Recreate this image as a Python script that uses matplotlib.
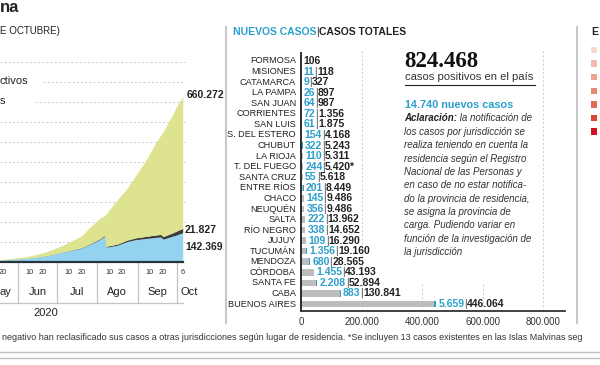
import matplotlib
matplotlib.use('Agg')
import matplotlib.pyplot as plt
import matplotlib.dates as mdates
import numpy as np
import pandas as pd
from matplotlib.lines import Line2D
from matplotlib.patches import Rectangle
from matplotlib.text import Annotation

plt.rcParams['font.family'] = ['Liberation Sans', 'DejaVu Sans']

# --- evolución acumulada (miles de casos) ---
fechas = ['2020-05-18', '2020-05-25', '2020-06-01', '2020-06-08', '2020-06-15',
          '2020-06-22', '2020-06-29', '2020-07-06', '2020-07-13', '2020-07-20',
          '2020-07-27', '2020-08-03', '2020-08-07', '2020-08-08', '2020-08-10',
          '2020-08-17', '2020-08-24', '2020-08-31', '2020-09-07', '2020-09-14',
          '2020-09-19', '2020-09-21', '2020-09-28', '2020-10-01', '2020-10-06']
totales = [8.4, 12.6, 17.4, 23.6, 32.8, 44.9, 62.3, 80.4, 103.3, 126.8,
           173.0, 214.0, 228.2, 235.7, 253.9, 310.0, 362.0, 430.0, 498.0, 578.0,
           630.0, 648.0, 730.0, 770.0, 824.468]
activos = [5.0, 7.5, 11.0, 14.5, 20.0, 26.0, 35.0, 45.0, 55.0, 65.0,
           85.0, 108.0, 125.0, 70.0, 72.0, 80.0, 98.0, 108.0, 113.0, 118.0,
           121.0, 110.0, 125.0, 130.0, 142.369]
fallecidos = [0.38, 0.46, 0.56, 0.67, 0.82, 1.0, 1.22, 1.58, 1.95, 2.35,
              3.0, 3.9, 4.4, 4.5, 4.9, 6.0, 7.4, 8.9, 10.4, 12.1,
              13.1, 13.5, 16.0, 20.3, 21.827]
meses = ['ay', 'Jun', 'Jul', 'Ago', 'Sep']

# --- casos por jurisdicción ---
provincias = ['FORMOSA', 'MISIONES', 'CATAMARCA', 'LA PAMPA', 'SAN JUAN', 'CORRIENTES',
              'SAN LUIS', 'S. DEL ESTERO', 'CHUBUT', 'LA RIOJA', 'T. DEL FUEGO',
              'SANTA CRUZ', 'ENTRE RÍOS', 'CHACO', 'NEUQUÉN', 'SALTA', 'RÍO NEGRO',
              'JUJUY', 'TUCUMÁN', 'MENDOZA', 'CÓRDOBA', 'SANTA FE', 'CABA', 'BUENOS AIRES']
nuevos = [0, 11, 9, 26, 64, 72, 61, 154, 322, 110, 244, 55, 201, 145, 356, 222,
          338, 109, 1356, 680, 1455, 2208, 883, 5659]
casos_prov = [106, 118, 327, 897, 987, 1356, 1875, 4168, 5243, 5311, 5420, 5618,
              8449, 9486, 9486, 13962, 14652, 16290, 19160, 28565, 43193, 52894,
              130841, 446064]
marcas = {'T. DEL FUEGO': '*'}
ticks_x = [0, 200000, 400000, 600000, 800000]

parrafo = ['los casos por jurisdicción se',
           'realiza teniendo en cuenta la',
           'residencia según el Registro',
           'Nacional de las Personas y',
           'en caso de no estar notifica-',
           'do la provincia de residencia,',
           'se asigna la provincia de',
           'carga. Pudiendo variar en',
           'función de la investigación de',
           'la jurisdicción']
escala_rojos = ['#f7d9d2', '#f1bcae', '#eba392', '#e58a75', '#e06a55', '#db4638', '#d20f24']

W, H = 600, 365
AZUL = '#2a9fcb'
TXT = '#222222'


def fx(x):
    return x / W


def fy(y):
    return 1 - y / H


def fmt(n):
    return f'{n:,}'.replace(',', '.')


fig = plt.figure(figsize=(6, 3.65), dpi=100)


def ftext(x, y, s, **kw):
    kw.setdefault('color', TXT)
    kw.setdefault('va', 'center')
    return fig.text(fx(x), fy(y), s, **kw)


def fline(xs, ys, **kw):
    fig.add_artist(Line2D([fx(x) for x in xs], [fy(y) for y in ys],
                          transform=fig.transFigure, **kw))


def chain(prev, s, **kw):
    # text placed right after another text
    kw.setdefault('color', TXT)
    return fig.add_artist(Annotation(s, xy=(1, 0.5), xycoords=prev, ha='left',
                                     va='center', **kw))


# ---------------- left: area chart ----------------
x = mdates.date2num(pd.to_datetime(fechas).to_pydatetime())
tot = np.array(totales)
act = np.array(activos)
fal = np.array(fallecidos)
rec = tot - act - fal

jun1 = mdates.date2num(pd.Timestamp('2020-06-01').to_pydatetime())
ax1 = fig.add_axes([0, fy(261.7), fx(185), 200 / H])
ax1.set_xlim(jun1 - 14.1, jun1 + 128.4)
ax1.set_ylim(0, 1000)
ax1.axis('off')

for v in range(100, 1001, 100):
    xmin = {900: 0.232, 800: 0.19}.get(v, 0)
    ax1.axhline(v, xmin=xmin, xmax=1, color='#c4c4c4', lw=0.6,
                ls=(0, (2.5, 2.5)), zorder=0, clip_on=False)

ax1.stackplot(x, act, fal, rec, colors=['#94d3ef', '#3d3d3d', '#dde38e'],
              lw=0, zorder=2)
ax1.plot([ax1.get_xlim()[0], x[-1]], [0, 0], color='#26343c', lw=1.6,
         clip_on=False, zorder=3)

xt = ax1.get_xaxis_transform()
for i, m in enumerate(meses + ['Oct']):
    start = mdates.date2num(pd.Timestamp(2020, 5 + i, 1).to_pydatetime())
    if i > 0:
        ax1.plot([start, start], [0, -0.207], transform=xt, color='#c4c4c4',
                 lw=0.9, clip_on=False)
    if m == 'ay':
        ax1.text(ax1.get_xlim()[0], -0.152, m, transform=xt, ha='left', va='center',
                 fontsize=8, color=TXT)
        ax1.text(start + 19, -0.0565, '20', transform=xt, ha='center', va='center',
                 fontsize=5.3, color='#333333')
    elif m == 'Oct':
        ax1.text(start + 5, -0.0565, '6', transform=xt, ha='center', va='center',
                 fontsize=5.3, color='#333333')
        ax1.text(start + 10, -0.152, m, transform=xt, ha='center', va='center',
                 fontsize=8, color=TXT)
    else:
        for d in (10, 20):
            ax1.text(start + d - 1, -0.0565, str(d), transform=xt, ha='center',
                     va='center', fontsize=5.3, color='#333333')
        ax1.text(start + 15, -0.152, m, transform=xt, ha='center', va='center',
                 fontsize=8, color=TXT)
ax1.plot([ax1.get_xlim()[0], x[-1]], [-0.207, -0.207], transform=xt,
         color='#c4c4c4', lw=0.9, clip_on=False)
ftext(46, 312.7, '2020', ha='center', fontsize=8)

ftext(0, 7, 'na', fontsize=12, fontweight='bold')
ftext(0, 31.5, 'E OCTUBRE)', fontsize=7)
ftext(0, 81, 'ctivos', fontsize=8)
ftext(0, 101, 's', fontsize=8)
ftext(187, 95, fmt(int(rec[-1] * 1000 + 0.5)), fontsize=7.5, fontweight='bold')
ftext(185, 230, fmt(int(fal[-1] * 1000 + 0.5)), fontsize=7.5, fontweight='bold')
ftext(185, 247, fmt(int(act[-1] * 1000 + 0.5)), fontsize=7.5, fontweight='bold')

# ---------------- middle: bars ----------------
n = len(provincias)
ypos = np.arange(n)[::-1]
ybot = -0.634
ax2 = fig.add_axes([fx(301), fy(310.7), fx(565) - fx(301), (310.7 - 50) / H])
ax2.set_xlim(0, 872700)
ax2.set_ylim(ybot, 24.04)
ax2.axis('off')

cas = np.array(casos_prov)
nue = np.array(nuevos)
for t in ticks_x[1:]:
    top = 2.08 if t in (400000, 600000) else 24.04
    ax2.plot([t, t], [ybot, top], color='#c4c4c4', lw=0.6, ls=(0, (2.5, 2.5)),
             zorder=0, clip_on=False)
ax2.barh(ypos, cas - nue, height=0.62, color='#bdbdbd', zorder=2)
ax2.barh(ypos, nue, left=cas - nue, height=0.62, color=AZUL, zorder=2)
ax2.plot([0, 0], [ybot, 23.76], color='#1e1e1e', lw=1.3, clip_on=False, zorder=3)
ax2.plot([0, 872700], [ybot, ybot], color='#333333', lw=1.3, clip_on=False, zorder=3)

yt = ax2.get_xaxis_transform()
for t in ticks_x:
    ax2.text(t, -0.042, fmt(t), transform=yt, ha='center', va='center',
             fontsize=7, color='#333333')

for name, yv, nv, cv in zip(provincias, ypos, nuevos, casos_prov):
    ax2.annotate(name, xy=(0, yv), xytext=(-5, 0), textcoords='offset pixels',
                 ha='right', va='center', fontsize=6.6, color=TXT)
    total_s = fmt(cv) + marcas.get(name, '')
    if nv > 0:
        a = ax2.annotate(fmt(nv), xy=(cv, yv), xytext=(2.5, 0), textcoords='offset pixels',
                         ha='left', va='center', fontsize=7.5, fontweight='bold', color=AZUL)
        b = ax2.annotate('|', xy=(1, 0.5), xycoords=a, ha='left', va='center',
                         fontsize=7.5, color='#555555')
        ax2.annotate(total_s, xy=(1, 0.5), xycoords=b, ha='left', va='center',
                     fontsize=7.5, fontweight='bold', color=TXT)
    else:
        ax2.annotate(total_s, xy=(cv, yv), xytext=(2.5, 0), textcoords='offset pixels',
                     ha='left', va='center', fontsize=7.5, fontweight='bold', color=TXT)

h1 = ftext(233, 31.7, 'NUEVOS CASOS', fontsize=7.5, fontweight='bold', color=AZUL)
s1 = chain(h1, '|', fontsize=7.5, color='#333333')
chain(s1, 'CASOS TOTALES', fontsize=7.5, fontweight='bold')

# ---------------- right text block ----------------
ftext(404, 61.5, fmt(int(tot[-1] * 1000 + 0.5)), fontsize=16.5, fontweight='bold',
      family='Liberation Serif', color='#111111')
ftext(405, 76.7, 'casos positivos en el país', fontsize=8.1, color='#333333')
fline([405, 535], [85, 85], color='#222222', lw=0.8)
ftext(405, 105, fmt(sum(nuevos)) + ' nuevos casos', fontsize=7.8, fontweight='bold',
      color=AZUL)
a0 = ftext(404, 118.3, 'Aclaración:', fontsize=7, fontweight='bold', style='italic')
chain(a0, ' la notificación de', fontsize=7, style='italic', color='#333333')
for i, line in enumerate(parrafo):
    ftext(404, 131.7 + 13.4 * i, line, fontsize=7, style='italic', color='#333333')

# ---------------- right edge legend ----------------
ftext(591, 32, 'E', fontsize=7.5, fontweight='bold')
for i, c in enumerate(escala_rojos):
    yc = 50 + 13.6 * i
    fig.add_artist(Rectangle((fx(591), fy(yc + 3.2)), 6.4 / W, 6.4 / H,
                             transform=fig.transFigure, color=c, lw=0))

# ---------------- dividers and footer ----------------
fline([226, 226], [27, 323], color='#c8c8c8', lw=1.5)
fline([577, 577], [27, 323], color='#c8c8c8', lw=1.5)
ftext(2, 338, 'negativo han reclasificado sus casos a otras jurisdicciones según lugar '
      'de residencia. *Se incluyen 13 casos existentes en las Islas Malvinas seg',
      fontsize=6.5, color='#333333')
fline([0, 600], [351.5, 351.5], color='#c0c0c0', lw=1)
fline([0, 600], [358, 358], color='#c0c0c0', lw=1)

fig.savefig('out.png', dpi=100, facecolor='white')
